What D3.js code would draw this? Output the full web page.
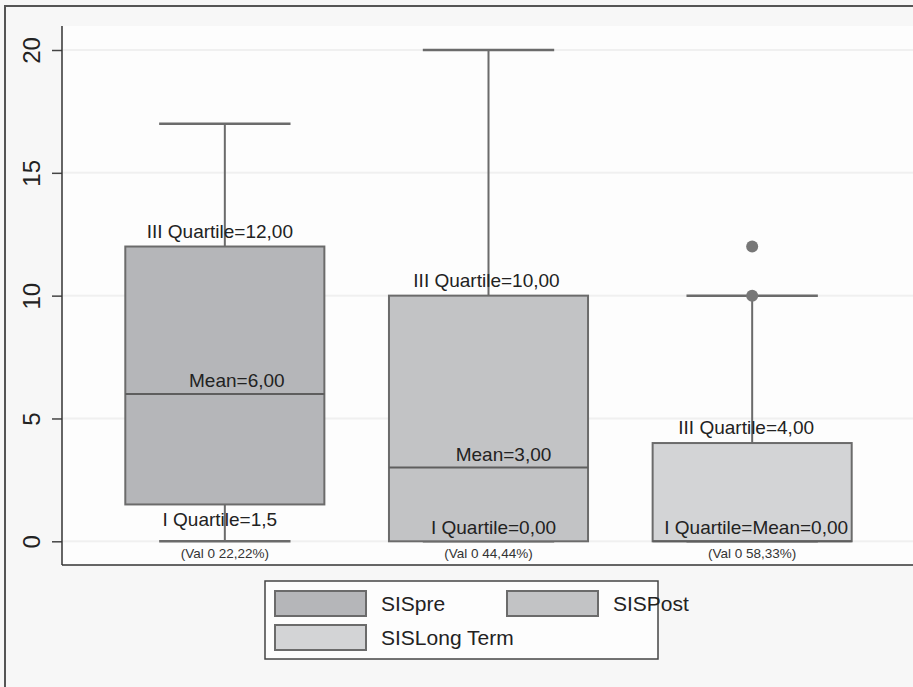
<!DOCTYPE html>
<html>
<head>
<meta charset="utf-8">
<script src="https://cdn.jsdelivr.net/npm/d3@7"></script>
<style>
  body { margin: 0; background: #f7f7f7; }
  svg { display: block; font-family: "Liberation Sans", Arial, sans-serif; }
</style>
</head>
<body>
<div id="chart"></div>
<script>
// box plot values
const categories = ["SISpre", "SISPost", "SISLong Term"];
const whiskerLow = [0, 0, 0];
const q1 = [1.5, 0, 0];
const meanLine = [6, 3, 0];
const q3 = [12, 10, 4];
const whiskerHigh = [17, 20, 10];
const outliers = [[], [], [10, 12]];
const yTicks = [0, 5, 10, 15, 20];
const fills = ["#b5b6b9", "#c2c3c5", "#d3d4d6"];

// annotation texts
const q3Labels = ["III Quartile=12,00", "III Quartile=10,00", "III Quartile=4,00"];
const meanLabels = ["Mean=6,00", "Mean=3,00", null];
const q1Labels = ["I Quartile=1,5", "I Quartile=0,00", "I Quartile=Mean=0,00"];
const valLabels = ["(Val 0 22,22%)", "(Val 0 44,44%)", "(Val 0 58,33%)"];

const W = 913, H = 687;
const plot = { left: 62, top: 26, right: 915, bottom: 565 };

const svg = d3.select("#chart").append("svg")
  .attr("width", W)
  .attr("height", H);

// outer frame
svg.append("rect")
  .attr("x", 5).attr("y", 6)
  .attr("width", W + 10).attr("height", H + 10)
  .attr("fill", "#f7f7f7")
  .attr("stroke", "#555")
  .attr("stroke-width", 2);

// plot region
svg.append("rect")
  .attr("x", plot.left).attr("y", plot.top)
  .attr("width", plot.right - plot.left).attr("height", plot.bottom - plot.top)
  .attr("fill", "#fdfdfd");

const y = d3.scaleLinear().domain([0, 20]).range([541.3, 50]);
const x = d3.scaleBand().domain(categories)
  .range([93, 884])
  .paddingInner(0.245)
  .paddingOuter(0.1225);

// grid
svg.append("g")
  .selectAll("line")
  .data(yTicks)
  .join("line")
  .attr("x1", plot.left + 1).attr("x2", plot.right)
  .attr("y1", d => y(d)).attr("y2", d => y(d))
  .attr("stroke", "#f0f0f0")
  .attr("stroke-width", 2);

// y axis
const yAxis = svg.append("g")
  .attr("transform", `translate(${plot.left},0)`)
  .call(d3.axisLeft(y).tickValues(yTicks).tickSize(10).tickPadding(0).tickFormat(d3.format("d")));
yAxis.select(".domain").remove();
yAxis.selectAll(".tick line").attr("stroke", "#444").attr("stroke-width", 1.5);
yAxis.selectAll(".tick text")
  .attr("transform", "rotate(-90)")
  .attr("x", 0).attr("y", -22)
  .attr("dy", 0)
  .attr("text-anchor", "middle")
  .attr("font-size", 24)
  .attr("fill", "#222");

// axis lines
svg.append("line")
  .attr("x1", plot.left).attr("x2", plot.left)
  .attr("y1", plot.top).attr("y2", plot.bottom)
  .attr("stroke", "#333").attr("stroke-width", 1.5);
svg.append("line")
  .attr("x1", plot.left).attr("x2", plot.right)
  .attr("y1", plot.bottom).attr("y2", plot.bottom)
  .attr("stroke", "#333").attr("stroke-width", 1.5);

const idx = d3.range(categories.length);
const cx = i => x(categories[i]) + x.bandwidth() / 2;
const capHalf = x.bandwidth() * 0.33;
const lineCol = "#6b6b6b";

const boxes = svg.append("g");

// whiskers
boxes.selectAll(".whisker")
  .data(idx)
  .join("line")
  .attr("x1", cx).attr("x2", cx)
  .attr("y1", i => y(whiskerLow[i])).attr("y2", i => y(whiskerHigh[i]))
  .attr("stroke", lineCol).attr("stroke-width", 2);
boxes.selectAll(".capHigh")
  .data(idx)
  .join("line")
  .attr("x1", i => cx(i) - capHalf).attr("x2", i => cx(i) + capHalf)
  .attr("y1", i => y(whiskerHigh[i])).attr("y2", i => y(whiskerHigh[i]))
  .attr("stroke", lineCol).attr("stroke-width", 2.5);
boxes.selectAll(".capLow")
  .data(idx)
  .join("line")
  .attr("x1", i => cx(i) - capHalf).attr("x2", i => cx(i) + capHalf)
  .attr("y1", i => y(whiskerLow[i])).attr("y2", i => y(whiskerLow[i]))
  .attr("stroke", lineCol).attr("stroke-width", 2.5);

// boxes
boxes.selectAll(".box")
  .data(idx)
  .join("rect")
  .attr("x", i => x(categories[i]))
  .attr("width", x.bandwidth())
  .attr("y", i => y(q3[i]))
  .attr("height", i => y(q1[i]) - y(q3[i]))
  .attr("fill", i => fills[i])
  .attr("stroke", lineCol)
  .attr("stroke-width", 2);

// mean lines
boxes.selectAll(".mean")
  .data(idx)
  .join("line")
  .attr("x1", i => x(categories[i])).attr("x2", i => x(categories[i]) + x.bandwidth())
  .attr("y1", i => y(meanLine[i])).attr("y2", i => y(meanLine[i]))
  .attr("stroke", "#5e5e5e").attr("stroke-width", 2);

// outliers
boxes.selectAll(".out")
  .data(idx.flatMap(i => outliers[i].map(v => ({ i, v }))))
  .join("circle")
  .attr("cx", d => cx(d.i))
  .attr("cy", d => y(d.v))
  .attr("r", 6)
  .attr("fill", "#777");

// annotations
const ann = svg.append("g").attr("fill", "#222").attr("text-anchor", "middle");
const q3dx = [-5, -2, -6];
const q1dx = [-5, 5, 4];
const q1y = [526, 534, 534];
const meandx = [12, 15, 0];

ann.selectAll(".q3")
  .data(idx)
  .join("text")
  .attr("x", i => cx(i) + q3dx[i])
  .attr("y", i => y(q3[i]) - 9)
  .attr("font-size", 19)
  .text(i => q3Labels[i]);

ann.selectAll(".mean")
  .data(idx.filter(i => meanLabels[i]))
  .join("text")
  .attr("x", i => cx(i) + meandx[i])
  .attr("y", i => y(meanLine[i]) - 7)
  .attr("font-size", 19)
  .text(i => meanLabels[i]);

ann.selectAll(".q1")
  .data(idx)
  .join("text")
  .attr("x", i => cx(i) + q1dx[i])
  .attr("y", i => q1y[i])
  .attr("font-size", 19)
  .text(i => q1Labels[i]);

ann.selectAll(".val")
  .data(idx)
  .join("text")
  .attr("x", i => cx(i))
  .attr("y", 558)
  .attr("font-size", 13.5)
  .attr("fill", "#333")
  .text(i => valLabels[i]);

// legend
const leg = svg.append("g").attr("transform", "translate(265,581)");
leg.append("rect")
  .attr("width", 393).attr("height", 78)
  .attr("fill", "#fdfdfd")
  .attr("stroke", "#444").attr("stroke-width", 1.5);
const legPos = [[10, 10], [242, 10], [10, 44]];
const items = leg.selectAll(".item")
  .data(idx)
  .join("g")
  .attr("transform", i => `translate(${legPos[i][0]},${legPos[i][1]})`);
items.append("rect")
  .attr("width", 91).attr("height", 25)
  .attr("fill", i => fills[i])
  .attr("stroke", lineCol).attr("stroke-width", 2);
items.append("text")
  .attr("x", 106).attr("y", 20)
  .attr("font-size", 21)
  .attr("fill", "#222")
  .text(i => categories[i]);
</script>
</body>
</html>
